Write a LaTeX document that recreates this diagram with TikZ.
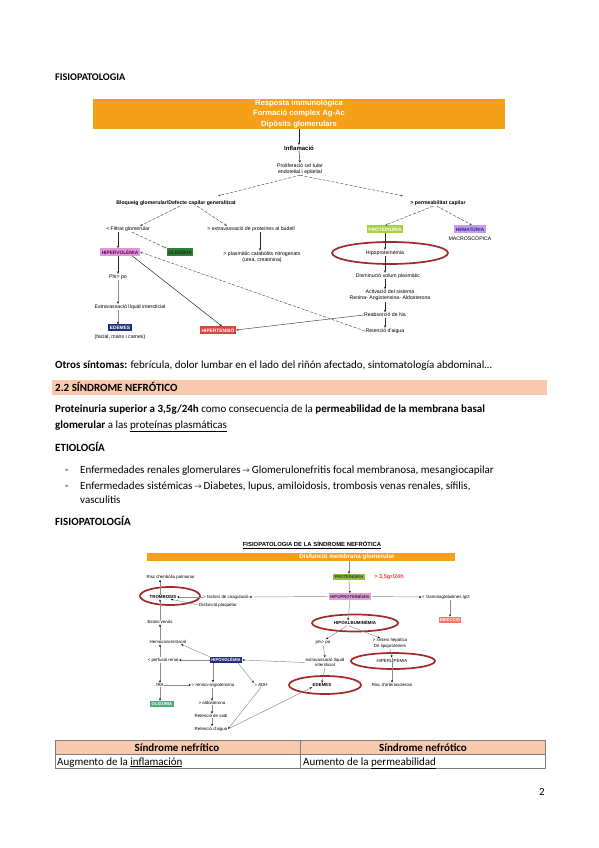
\documentclass[tikz,border=0pt]{standalone}
\usepackage{fontspec}
\setmainfont{Carlito}
\newfontfamily\diagfont{Liberation Sans}
\newfontfamily\symfont{DejaVu Sans}
\usetikzlibrary{arrows.meta,positioning,shapes.geometric,calc}
\definecolor{orng}{HTML}{F6A01A}
\definecolor{salmon}{HTML}{F7C9AE}
\definecolor{protg}{HTML}{A8CF45}
\definecolor{hemat}{HTML}{C59BEA}
\definecolor{hemattxt}{HTML}{2B2A8F}
\definecolor{pinkv}{HTML}{E394D6}
\definecolor{pinktxt}{HTML}{4A1450}
\definecolor{oliga}{HTML}{2F7F35}
\definecolor{navy}{HTML}{222E7A}
\definecolor{hipert}{HTML}{D8473D}
\definecolor{ringred}{HTML}{A3282A}
\definecolor{protb}{HTML}{8DBF3F}
\definecolor{hipopr}{HTML}{DDA3D6}
\definecolor{oligb}{HTML}{4DAE7B}
\definecolor{infec}{HTML}{F4786A}
\definecolor{redtxt}{HTML}{E2483D}
\definecolor{rule}{HTML}{7F7F7F}
\newcommand{\dsize}{\fontsize{5.2}{6.2}\selectfont}
\newcommand{\esize}{\fontsize{4.4}{5.4}\selectfont}
\newcommand{\bsize}{\fontsize{11}{13}\selectfont}
\newcommand{\toarr}{\,{\symfont\fontsize{9}{10}\selectfont\textcolor{black!70}{→}}\,}

\begin{document}
\begin{tikzpicture}[x=1pt,y=-1pt,
   d1/.style={font=\diagfont\dsize,inner sep=0.5pt,align=center},
   d2/.style={font=\diagfont\esize,inner sep=0.5pt,align=center},
   tag/.style={font=\diagfont\bfseries\fontsize{4.8}{5}\selectfont,inner xsep=1.6pt,inner ysep=1.4pt},
   tagb/.style={font=\diagfont\bfseries\fontsize{4.2}{5}\selectfont,inner xsep=1.4pt,inner ysep=1.2pt},
   txt/.style={font=\bsize,anchor=base west,inner sep=0pt},
   ar/.style={-{Stealth[length=2.6pt,width=2.2pt]},line width=0.5pt,draw=black!85},
   dar/.style={ar,dash pattern=on 3pt off 1.6pt,draw=black!65},
   gl/.style={-{Stealth[length=2.4pt,width=2pt,color=black]},line width=0.45pt,draw=black!45},
   ring/.style={draw=ringred,line width=1.7pt}]
  \useasboundingbox[fill=white] (0,0) rectangle (599,848);

  % first diagram
  \node[fill=orng,minimum width=412pt,minimum height=30pt,inner sep=0pt,align=center,
        text=white,font=\diagfont\bfseries\fontsize{7.6}{10.6}\selectfont] (resp) at (299,114)
        {Resposta immunològica\\Formació complex Ag-Ac\\Dipòsits glomerulars};
  \node[d1,font=\diagfont\bfseries\fontsize{6}{7}\selectfont] (infl) at (299,148) {Inflamació};
  \node[d1] (prolif) at (300,169) {Proliferació cel·lular\\endotelial i epitelial};
  \node[d1,font=\diagfont\bfseries\dsize] (bloq) at (176,203) {Bloqueig glomerular/Defecte capilar generalitzat};
  \node[d1,font=\diagfont\bfseries\dsize] (perm) at (438,203) {> permeabilitat capilar};
  \node[d1] (filt) at (128,229) {< Filtrat glomerular};
  \node[d1] (extrb) at (251,229) {> extravassació de proteïnes al budell};
  \node[tag,fill=protg,text=white] (prot1) at (385,229) {PROTEÏNÚRIA};
  \node[tag,fill=hemat,text=hemattxt] (hema) at (470,229) {HEMATÚRIA};
  \node[d1] (macro) at (470,237.8) {MACROSCÒPICA};
  \node[tag,fill=pinkv,text=pinktxt] (hiperv) at (120,252) {HIPERVOLÈMIA};
  \node[tag,fill=oliga,text=black!85] (olig1) at (180,252) {OLIGÚRIA};
  \node[d1] (plasm) at (262,257) {> plasmàtic catabòlits nitrogenats\\(urea, creatinina)};
  \node[d1] (hipop1) at (385,253) {Hipoproteïnèmia};
  \node[d1] (phi1) at (118,277) {Phi> po};
  \node[d1] (extri) at (130,307) {Extravassació líquid intersticial};
  \node[tag,fill=navy,text=white] (edem1) at (120,327.5) {EDEMES};
  \node[d1] (facial) at (120,337) {(facial, mans i cames)};
  \node[tag,fill=hipert,text=white] (hipt) at (218,330) {HIPERTENSIÓ};
  \node[d1] (dism) at (388,276) {Disminució volum plasmàtic};
  \node[d1] (activ) at (390,295.5) {Activació del sistema\\Renina- Angiotensina- Aldosterona};
  \node[d1] (reab) at (385,315) {Reabsorció de Na};
  \node[d1] (ret1) at (385,331) {Retenció d'aigua};
  \draw[ring] (390,253) ellipse [x radius=58pt,y radius=11pt];

  \draw[ar] (resp.south -| infl.north) -- (infl.north);
  \draw[ar] (infl.south) -- (prolif.north);
  \draw[dar] (prolif.south) -- ([xshift=42pt,yshift=4pt]bloq.north);
  \draw[dar] (prolif.south) -- ([xshift=-35pt,yshift=4pt]perm.north);
  \draw[dar] ([xshift=4pt]bloq.south) -- ([xshift=12pt]filt.north);
  \draw[dar] ([xshift=21pt]bloq.south) -- ([xshift=-24pt]extrb.north);
  \draw[dar] ([xshift=-5pt]perm.south) -- (prot1.north);
  \draw[dar] ([xshift=-1pt]perm.south) -- ([xshift=2pt]hema.north);
  \draw[ar] ([xshift=-10pt]filt.south) -- ([xshift=-2pt]hiperv.north);
  \draw[dar] ([xshift=4pt]filt.south) -- (olig1.north west);
  \draw[ar] ([xshift=9pt]extrb.south) -- ([xshift=-2pt]plasm.north);
  \draw[ar] (prot1.south) -- (hipop1.north);
  \draw[ar] ([xshift=-2pt]hiperv.south) -- (phi1.north);
  \draw[gl] (phi1.south) -- (extri.north -| phi1.south);
  \draw[gl] (extri.south -| phi1.south) -- (edem1.north -| phi1.south);
  \draw[ar] ([xshift=-8pt]hiperv.south east) -- ([xshift=4pt]hipt.north);
  \draw[dar] (ret1.west) -- (hiperv.east);
  \draw[ar,draw=black!70] (reab.west) -- (hipt.east);
  \draw[ar] (hipop1.south) -- (dism.north -| hipop1.south);
  \draw[ar] (dism.south -| hipop1.south) -- (activ.north -| hipop1.south);
  \draw[ar] (activ.south -| hipop1.south) -- (reab.north);
  \draw[ar] (reab.south) -- (ret1.north);

  % page text
  \node[txt,font=\bfseries\fontsize{10.2}{12}\selectfont] (fisio1) at (55,81) {FISIOPATOLOGIA};
  \node[txt] (otros) at (55,368.5) {\textbf{Otros síntomas:} febrícula, dolor lumbar en el lado del riñón afectado, sintomatología abdominal…};
  \node[fill=salmon,minimum width=495pt,minimum height=15pt,inner sep=0pt] (band) at (299.5,387.5) {};
  \node[txt,font=\bfseries\bsize] (sec) at (55,391.5) {2.2 SÍNDROME NEFRÓTICO};
  \node[txt] (def1) at (55,412.5) {\textbf{Proteinuria superior a 3,5g/24h} como consecuencia de la \textbf{permeabilidad de la membrana basal}};
  \node[txt] (def2) at (55,428.5) {\textbf{glomerular} a las \underline{proteínas plasmáticas}};
  \node[txt,font=\bfseries\bsize] (etio) at (55,451.5) {ETIOLOGÍA};
  \node[txt] (dash1) at (65,473.5) {-};
  \node[txt] (item1) at (80,473.5) {Enfermedades renales glomerulares\toarr Glomerulonefritis focal membranosa, mesangiocapilar};
  \node[txt] (dash2) at (65,489) {-};
  \node[txt] (item2) at (80,489) {Enfermedades sistémicas\toarr Diabetes, lupus, amiloidosis, trombosis venas renales, sífilis,};
  \node[txt] (item2b) at (80,503.5) {vasculitis};
  \node[txt,font=\bfseries\bsize] (fisio2) at (55,525.5) {FISIOPATOLOGÍA};

  % second diagram
  \node[d2,font=\diagfont\bfseries\fontsize{5.9}{7}\selectfont] (title2) at (312,545) {\underline{FISIOPATOLOGIA DE LA SÍNDROME NEFRÒTICA}};
  \node[fill=orng,minimum width=308pt,minimum height=8pt,inner sep=0pt] (bar2) at (301,557) {};
  \node[d2,font=\diagfont\bfseries\fontsize{6.2}{7}\selectfont,text=white] (dmg) at (347,557) {Disfunció membrana glomerular};
  \node[tagb,fill=protb,text=black!80] (prot2) at (349,577) {PROTEÏNÚRIA};
  \node[d2,font=\diagfont\bfseries\fontsize{5.6}{6}\selectfont,text=redtxt] (g24) at (389,577) {> 3,5gr/24h};
  \node[tagb,fill=hipopr,text=pinktxt] (hipop2) at (350,596.5) {HIPOPROTEÏNÈMIA};
  \node[d2] (factc) at (226,597) {> factors de coagulació};
  \node[d2] (gamma) at (446,597) {< Gammaglobulines IgG};
  \node[tagb,fill=infec,text=white] (infc) at (450,620) {INFECCIÓ};
  \node[d2,font=\diagfont\bfseries\esize] (tromb) at (163,597) {TROMBOSIS};
  \node[d2,anchor=west] (risc) at (146,577) {Risc d'embòlia pulmonar};
  \node[d2] (plaq) at (218,605) {Disfunció plaquetar};
  \node[d2] (estasi) at (160,622) {Estasi venós};
  \node[d2] (hemoc) at (168,642) {Hemoconcentració};
  \node[d2] (perf) at (163,660) {< perfusió renal};
  \node[tagb,fill=navy,text=white] (hipov) at (226,660) {HIPOVOLÈMIA};
  \node[d2] (extr2) at (325,662.5) {extravassació líquid\\intersticial};
  \node[d2] (phi2) at (323,642) {phi> po};
  \node[d2,font=\diagfont\bfseries\esize] (hipoalb) at (355,623) {HIPOALBUMINÈMIA};
  \node[d2] (sint) at (390,643.5) {> síntesi hepàtica\\De lipoproteïnes};
  \node[d2] (hiperl) at (392,661) {HIPERLIPÈMIA};
  \node[d2] (risca) at (392,685) {Risc d'arteriosclerosi};
  \node[d2,font=\diagfont\bfseries\esize] (edem2) at (322,685) {EDEMES};
  \node[d2] (ira) at (160,685) {IRA};
  \node[d2] (renin) at (213,685) {> renina-angiotensina};
  \node[d2] (adh) at (261,685) {> ADH};
  \node[tagb,fill=oligb,text=white] (olig2) at (162,704) {OLIGÚRIA};
  \node[d2] (aldo) at (212,703) {> aldosterona};
  \node[d2] (rets) at (211,716) {Retenció de sodi};
  \node[d2] (reta) at (211,729) {Retenció d'aigua};
  \draw[ring] (170,596) ellipse [x radius=30pt,y radius=9pt];
  \draw[ring] (355,623) ellipse [x radius=43pt,y radius=8.5pt];
  \draw[ring] (393,661) ellipse [x radius=42pt,y radius=8pt];
  \draw[ring] (325,685) ellipse [x radius=36pt,y radius=9pt];

  \draw[gl] (dmg.south -| prot2.north) -- (prot2.north);
  \draw[gl] (prot2.south) -- (hipop2.north);
  \draw[gl] (hipop2.west) -- (factc.east);
  \draw[gl] (hipop2.east) -- (gamma.west);
  \draw[gl] (gamma.south -| infc.north) -- (infc.north);
  \draw[gl] (factc.west) -- (tromb.east);
  \draw[gl] (plaq.west) -- ([xshift=-6pt]tromb.south east);
  \draw[gl] ([xshift=-3pt]tromb.north) -- ([xshift=-3pt]tromb.north |- risc.south);
  \draw[gl] (estasi.north) -- (estasi.north |- tromb.south);
  \draw[gl] (hemoc.north -| estasi.south) -- (estasi.south);
  \draw[gl] (perf.north -| estasi.south) -- (hemoc.south -| estasi.south);
  \draw[gl] (hipov.west) -- (perf.east);
  \draw[gl] (hipov.north west) -- ([xshift=-6pt]hemoc.south east);
  \draw[gl] (extr2.west) -- (hipov.east);
  \draw[gl] (phi2.south) -- (extr2.north);
  \draw[gl] (hipop2.south) -- ([xshift=-7pt]hipoalb.north);
  \draw[gl] ([xshift=-8pt]hipoalb.south) -- ([xshift=3pt]phi2.north);
  \draw[gl] ([xshift=-6pt]hipoalb.south) -- ([xshift=-10pt]sint.north);
  \draw[gl] (sint.south) -- ([yshift=1pt]hiperl.north);
  \draw[gl] (hiperl.north) -- (risca.north);
  \draw[gl] (extr2.south) -- (edem2.north);
  \draw[gl] (perf.south -| ira.north) -- (ira.north);
  \draw[gl] (ira.east) -- (renin.west);
  \draw[gl] (hipov.south -| renin.north) -- (renin.north);
  \draw[gl] ([xshift=-4pt]hipov.south east) -- (adh.north west);
  \draw[gl] (ira.south) -- (olig2.north -| ira.south);
  \draw[gl] (renin.south -| aldo.north) -- (aldo.north);
  \draw[gl] (aldo.south) -- (rets.north -| aldo.south);
  \draw[gl] (rets.south -| aldo.south) -- (reta.north -| aldo.south);
  \draw[gl] (adh.south) -- (reta.east);
  \draw[gl] (reta.east) -- (edem2.south west);

  % table
  \fill[salmon] (55,740) rectangle (545,754);
  \draw[rule,line width=0.6pt] (55,740) rectangle (545,768) (55,754) -- (545,754) (300,740) -- (300,768);
  \node[font=\bfseries\bsize,inner sep=0pt] (th1) at (177,747.5) {Síndrome nefrítico};
  \node[font=\bfseries\bsize,inner sep=0pt] (th2) at (423,747.5) {Síndrome nefrótico};
  \node[txt] (tb1) at (57,765) {Augmento de la \underline{inflamación}};
  \node[txt] (tb2) at (303,765) {Aumento de la \underline{permeabilidad}};
  \node[txt] (pnum) at (539,795) {2};
\end{tikzpicture}
\end{document}
